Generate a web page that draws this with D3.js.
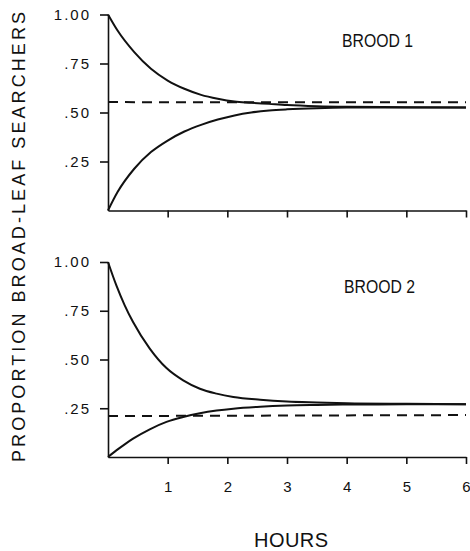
<!DOCTYPE html>
<html>
<head>
<meta charset="utf-8">
<script src="https://cdn.jsdelivr.net/npm/d3@7"></script>
<style>
  body { margin: 0; background: #fff; }
  svg { display: block; }
  text { font-family: "Liberation Sans", "DejaVu Sans", sans-serif; fill: #111; }
  .axis path, .axis line { stroke: #111; stroke-width: 1.6; }
  .axis text { font-size: 15px; letter-spacing: 2px; }
  .curve { fill: none; stroke: #111; stroke-width: 2; }
  .dash { fill: none; stroke: #111; stroke-width: 2; stroke-dasharray: 10 7; }
</style>
</head>
<body>
<div id="chart"></div>
<script>
// values (proportion of broad-leaf searchers vs hours)
const hours1 = [0, 0.16, 0.44, 0.72, 1.0, 1.28, 1.56, 1.84, 2.12, 2.4, 2.7, 3.0, 3.5, 4, 5, 6]
const brood1Upper = [1.0, 0.918, 0.808, 0.723, 0.663, 0.621, 0.590, 0.570, 0.556, 0.550, 0.544, 0.538, 0.532, 0.529, 0.527, 0.526]
const brood1Lower = [0, 0.094, 0.213, 0.298, 0.357, 0.403, 0.437, 0.464, 0.485, 0.500, 0.510, 0.516, 0.522, 0.525, 0.526, 0.526]
const brood1Dashed = [0.553, 0.552]

const hours2 = [0, 0.14, 0.28, 0.42, 0.70, 0.98, 1.26, 1.54, 1.82, 2.10, 2.55, 3.0, 3.5, 4, 5, 6]
const brood2Upper = [1.0, 0.88, 0.778, 0.692, 0.556, 0.456, 0.393, 0.350, 0.325, 0.308, 0.294, 0.285, 0.280, 0.276, 0.273, 0.271]
const brood2Lower = [0, 0.034, 0.065, 0.094, 0.142, 0.180, 0.205, 0.224, 0.238, 0.248, 0.258, 0.264, 0.267, 0.269, 0.270, 0.271]
const brood2Dashed = [0.210, 0.215]

const hourTicks = [1, 2, 3, 4, 5, 6]
const propTicks = [0.25, 0.5, 0.75, 1.0]

const W = 470, H = 551

var svg = d3.select("#chart").append("svg")
    .attr("width", W)
    .attr("height", H)

var x = d3.scaleLinear().domain([0, 6]).range([108, 466])

var panels = [
  { name: "BROOD 1", hours: hours1, upper: brood1Upper, lower: brood1Lower, dashed: brood1Dashed,
    y: d3.scaleLinear().domain([0, 1]).range([210.5, 14.5]), labelX: 342, labelY: 47, showX: false },
  { name: "BROOD 2", hours: hours2, upper: brood2Upper, lower: brood2Lower, dashed: brood2Dashed,
    y: d3.scaleLinear().domain([0, 1]).range([457, 262]), labelX: 344, labelY: 293, showX: true }
]

function fmtProp(d) {
  return d === 1 ? "1.00" : d3.format(".2f")(d).slice(1)
}

panels.forEach(p => {
  var g = svg.append("g")

  var line = d3.line()
      .x((d, i) => x(p.hours[i]))
      .y(d => p.y(d))
      .curve(d3.curveMonotoneX)

  g.append("path").attr("class", "curve").attr("d", line(p.upper))
  g.append("path").attr("class", "curve").attr("d", line(p.lower))

  g.append("line")
    .attr("class", "dash")
    .attr("x1", x(0)).attr("x2", x(6))
    .attr("y1", p.y(p.dashed[0])).attr("y2", p.y(p.dashed[1]))

  var yAxis = d3.axisLeft(p.y)
    .tickValues(propTicks)
    .tickFormat(fmtProp)
    .tickSize(8)
    .tickPadding(9)
    .tickSizeOuter(0)

  g.append("g")
    .attr("class", "axis y")
    .attr("transform", "translate(" + x(0) + ",0)")
    .call(yAxis)

  var xAxis = d3.axisBottom(x)
    .tickValues(hourTicks)
    .tickFormat(p.showX ? d3.format("d") : () => "")
    .tickSize(7)
    .tickPadding(17)
    .tickSizeOuter(0)

  var xg = g.append("g")
    .attr("class", "axis x")
    .attr("transform", "translate(0," + p.y(0) + ")")
    .call(xAxis)
  xg.selectAll("text").style("font-size", "15px").style("letter-spacing", "0px")

  g.append("text")
    .attr("x", p.labelX)
    .attr("y", p.labelY)
    .attr("font-size", "18px")
    .attr("textLength", 71)
    .attr("lengthAdjust", "spacingAndGlyphs")
    .text(p.name)
})

svg.append("text")
  .attr("transform", "translate(25,237) rotate(-90)")
  .attr("text-anchor", "middle")
  .attr("font-size", "18px")
  .attr("textLength", 450)
  .attr("lengthAdjust", "spacing")
  .text("PROPORTION BROAD-LEAF SEARCHERS")

svg.append("text")
  .attr("x", 291)
  .attr("y", 547)
  .attr("text-anchor", "middle")
  .attr("font-size", "20px")
  .attr("textLength", 74)
  .attr("lengthAdjust", "spacing")
  .text("HOURS")
</script>
</body>
</html>
